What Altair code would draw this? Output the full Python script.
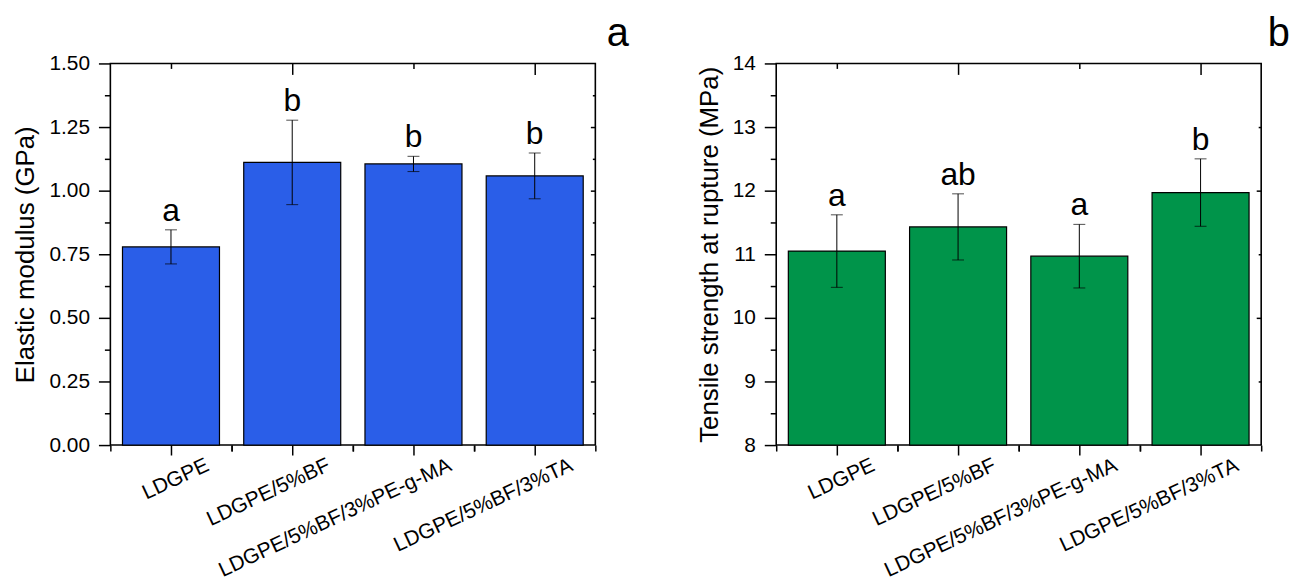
import altair as alt
import pandas as pd

FONT = "Liberation Sans"

categories = ["LDGPE", "LDGPE/5%BF", "LDGPE/5%BF/3%PE-g-MA", "LDGPE/5%BF/3%TA"]

modulus = [0.779, 1.111, 1.105, 1.058]
modulus_err = [0.067, 0.166, 0.030, 0.090]
modulus_letters = ["a", "b", "b", "b"]

strength = [11.05, 11.43, 10.97, 11.97]
strength_err = [0.57, 0.52, 0.50, 0.53]
strength_letters = ["a", "ab", "a", "b"]

modulus_major = [0.0, 0.25, 0.5, 0.75, 1.0, 1.25, 1.5]
modulus_minor = [0.125, 0.375, 0.625, 0.875, 1.125, 1.375]
modulus_right_long = [0.25, 0.5, 0.75, 1.0, 1.25]
modulus_right_short = [0.125, 0.375, 0.625, 0.875, 1.125, 1.375]
strength_major = [8, 9, 10, 11, 12, 13, 14]
strength_minor = [8.5, 9.5, 10.5, 11.5, 12.5, 13.5]
strength_right_long = [10, 12]
strength_right_short = [9, 11, 13]

top_short_cats = [categories[0], categories[2]]
top_long_cats = [categories[1], categories[3]]

AX = dict(domain=False, grid=False, tickColor="black", tickWidth=1.5, title=None,
          labels=False, minExtent=0, maxExtent=0)


def make_panel(values, errors, letters, color, y_title, y_domain, y_major, y_minor,
               right_long, right_short, y_format, tag, tag_dx):
    lo = [v - e for v, e in zip(values, errors)]
    hi = [v + e for v, e in zip(values, errors)]
    df = pd.DataFrame({"cat": categories, "v": values, "lo": lo, "hi": hi, "lab": letters})
    xscale = alt.Scale(domain=categories, paddingInner=0, paddingOuter=0)
    yscale = alt.Scale(domain=y_domain, nice=False, zero=False)
    base = alt.Chart(df)

    def xenc(axis):
        return alt.X("cat:N", scale=xscale, sort=categories, title=None, axis=axis)

    def yenc(field, axis, title=None):
        return alt.Y(f"{field}:Q", scale=yscale, title=title, axis=axis)

    x_main = alt.Axis(orient="bottom", labelAngle=-25, labelAlign="right",
                      labelBaseline="middle", labelOffset=37, labelPadding=9,
                      labelFont=FONT, labelFontSize=21, labelColor="black",
                      labelLimit=600, labelOverlap=False, tickSize=10, bandPosition=0.5,
                      domain=False, grid=False, tickColor="black", tickWidth=1.5)
    y_main = alt.Axis(orient="left", values=y_major, format=y_format, tickSize=12,
                      labelPadding=9, labelFont=FONT, labelFontSize=21, labelColor="black",
                      titleFont=FONT, titleFontSize=26, titleFontWeight="normal",
                      titleColor="black", titlePadding=10,
                      domain=False, grid=False, tickColor="black", tickWidth=1.5)

    bars = base.mark_bar(width={"band": 0.8}, color=color, stroke="black",
                         strokeWidth=1.2).encode(
        x=xenc(x_main), y=yenc("v", y_main, y_title), y2=alt.Y2(datum=y_domain[0]))
    rule = base.mark_rule(color="black", strokeWidth=1).encode(
        x=xenc(None), y=yenc("lo", None), y2="hi:Q")
    cap_hi = base.mark_tick(color="black", size=12, thickness=1).encode(
        x=xenc(None), y=yenc("hi", None))
    cap_lo = base.mark_tick(color="black", size=12, thickness=1).encode(
        x=xenc(None), y=yenc("lo", None))
    text = base.mark_text(font=FONT, fontSize=32, baseline="alphabetic", dy=-9,
                          color="black").encode(
        x=xenc(None), y=yenc("hi", None), text="lab:N")

    ghost = base.mark_point(opacity=0)
    g1 = ghost.encode(
        x=xenc(alt.Axis(orient="bottom", bandPosition=0, tickSize=6, **AX)),
        y=yenc("v", alt.Axis(orient="left", values=y_minor, tickSize=6, **AX)))
    g2 = ghost.encode(
        x=xenc(alt.Axis(orient="bottom", bandPosition=1, tickSize=6, **AX)),
        y=yenc("v", alt.Axis(orient="right", values=right_long, tickSize=5, offset=-5, **AX)))
    g3 = ghost.encode(
        x=xenc(alt.Axis(orient="top", values=top_short_cats, bandPosition=0.5, tickSize=5,
                        offset=-5, **AX)),
        y=yenc("v", alt.Axis(orient="right", values=right_short, tickSize=3, offset=-3, **AX)))
    g4 = ghost.encode(
        x=xenc(alt.Axis(orient="top", values=top_long_cats, bandPosition=0.5, tickSize=11,
                        offset=-11, **AX)),
        y=yenc("v", None))

    return alt.layer(bars, rule, cap_hi, cap_lo, text, g1, g2, g3, g4).resolve_axis(
        x="independent", y="independent").properties(
        width=488, height=384,
        title=alt.TitleParams(text=tag, anchor="end", dx=tag_dx, fontSize=40, font=FONT,
                              fontWeight="normal", color="black", offset=-1))


left = make_panel(modulus, modulus_err, modulus_letters, "#2A5EE8", "Elastic modulus (GPa)",
                  [0, 1.5], modulus_major, modulus_minor,
                  modulus_right_long, modulus_right_short, ".2f", "a", 33)
right = make_panel(strength, strength_err, strength_letters, "#00944A",
                   "Tensile strength at rupture (MPa)", [8, 14], strength_major,
                   strength_minor, strength_right_long, strength_right_short, "d", "b", 28)

chart = alt.hconcat(left, right, spacing=65).configure_view(
    stroke="black", strokeWidth=1.6).properties(
    padding={"left": 4, "top": 3, "right": 0, "bottom": 0})

chart.save("out.html", embed_options={"renderer": "svg", "actions": False})
